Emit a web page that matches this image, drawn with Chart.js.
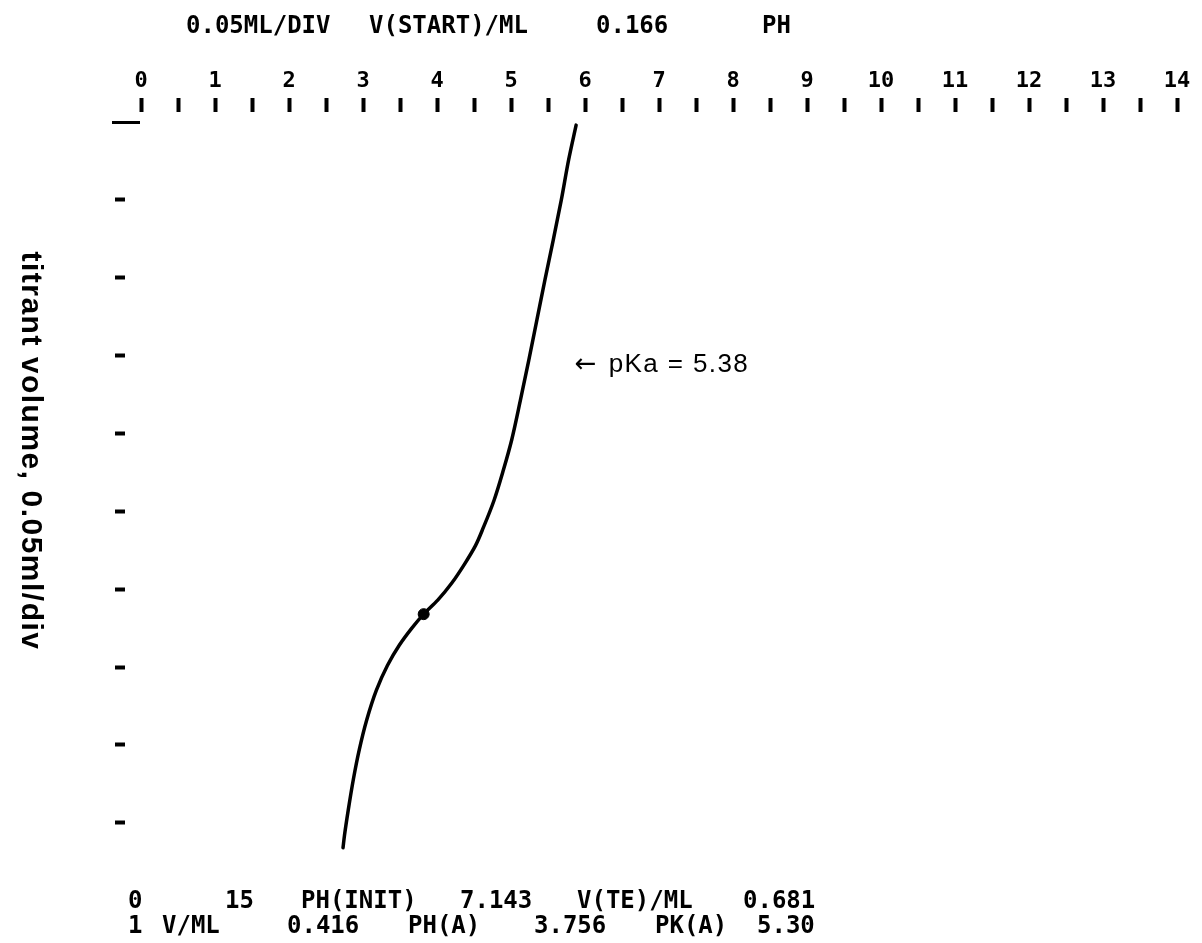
<!DOCTYPE html>
<html>
<head>
<meta charset="utf-8">
<script src="https://cdn.jsdelivr.net/npm/chart.js@4.4.1/dist/chart.umd.min.js"></script>
<style>
  html, body { margin: 0; padding: 0; background: #ffffff; }
  #wrap { position: relative; width: 1202px; height: 943px; }
  canvas { display: block; }
</style>
</head>
<body>
<div id="wrap"><canvas id="c" width="1202" height="943"></canvas></div>
<script>
// ---- data ----
// pH along the curve (top axis)
const curvePH = [5.88, 5.78, 5.68, 5.57, 5.46, 5.35, 5.24, 5.13, 5.01, 4.90, 4.77, 4.63, 4.52,
                 4.37, 4.20, 4.01, 3.82, 3.66, 3.49, 3.33, 3.18, 3.05, 2.95, 2.87, 2.80, 2.75, 2.73];
// titrant volume added, mL (axis runs downward, 0.05 mL per division)
const curveVol = [0.002, 0.024, 0.050, 0.076, 0.101, 0.127, 0.153, 0.178, 0.204, 0.223, 0.243, 0.260, 0.272,
                  0.284, 0.296, 0.307, 0.316, 0.325, 0.336, 0.349, 0.365, 0.384, 0.403, 0.422, 0.442, 0.458, 0.466];
// half-neutralisation marker
const markerPH = [3.82];
const markerVol = [0.316];
// tick labels
const pHTickLabels = ['0','1','2','3','4','5','6','7','8','9','10','11','12','13','14'];
const volStep = 0.05;
// texts
const headerTexts = ['0.05ML/DIV', 'V(START)/ML', '0.166', 'PH'];
const footerRow1 = ['0', '15', 'PH(INIT)', '7.143', 'V(TE)/ML', '0.681'];
const footerRow2 = ['1', 'V/ML', '0.416', 'PH(A)', '3.756', 'PK(A)', '5.30'];
const yTitle = 'titrant volume, 0.05ml/div';
const pKaArrow = '\u2190';
const pKaText = 'pKa = 5.38';
const pKaAnchor = [5.86, 0.156]; // [pH, mL] where the note sits

// ---- layout (text placement only) ----
const headerX = [186, 369, 596, 762], headerY = 27;
const footer1X = [128, 225, 301, 460, 577, 743], footer1Y = 902;
const footer2X = [128, 162, 287, 408, 534, 655, 757], footer2Y = 927;
const titleX = 30, titleY = 451;

const textPlugin = {
  id: 'texts',
  afterDraw(chart) {
    const ctx = chart.ctx;
    const xs = chart.scales.x, ys = chart.scales.y;
    ctx.save();
    ctx.fillStyle = '#000';
    ctx.textBaseline = 'middle';
    ctx.textAlign = 'left';
    ctx.font = 'bold 24px "DejaVu Sans Mono"';
    headerTexts.forEach((t, i) => ctx.fillText(t, headerX[i], headerY));
    footerRow1.forEach((t, i) => ctx.fillText(t, footer1X[i], footer1Y));
    footerRow2.forEach((t, i) => ctx.fillText(t, footer2X[i], footer2Y));

    const ax = xs.getPixelForValue(pKaAnchor[0]);
    const ay = ys.getPixelForValue(pKaAnchor[1]);
    ctx.font = '26px "DejaVu Sans"';
    ctx.fillText(pKaArrow, ax, ay);
    ctx.font = '26px "Liberation Sans", Arial, sans-serif';
    try { ctx.letterSpacing = '1.4px'; } catch (e) {}
    ctx.fillText(pKaText, ax + 34, ay);

    ctx.font = 'bold 30px "Liberation Sans", Arial, sans-serif';
    try { ctx.letterSpacing = '1.5px'; } catch (e) {}
    ctx.translate(titleX, titleY);
    ctx.rotate(Math.PI / 2);
    ctx.textAlign = 'center';
    ctx.fillText(yTitle, 0, 0);
    ctx.restore();
  }
};

new Chart(document.getElementById('c'), {
  type: 'line',
  data: {
    datasets: [
      {
        data: curvePH.map((p, i) => ({ x: p, y: curveVol[i] })),
        borderColor: '#000',
        borderWidth: 3.5,
        pointRadius: 0,
        cubicInterpolationMode: 'monotone',
        fill: false,
        borderCapStyle: 'round',
        borderJoinStyle: 'round'
      },
      {
        data: markerPH.map((p, i) => ({ x: p, y: markerVol[i] })),
        showLine: false,
        pointRadius: 5.5,
        pointStyle: 'circle',
        pointBackgroundColor: '#000',
        pointBorderColor: '#000'
      }
    ]
  },
  options: {
    indexAxis: 'y',
    responsive: false,
    animation: false,
    devicePixelRatio: 1,
    layout: { padding: { top: 50, left: 0, right: 25, bottom: 89 } },
    plugins: { legend: { display: false }, tooltip: { enabled: false } },
    scales: {
      x: {
        type: 'linear',
        position: 'top',
        min: 0,
        max: 14,
        border: { display: false },
        grid: {
          drawOnChartArea: false,
          drawTicks: true,
          tickLength: 24,
          tickWidth: 4,
          tickColor: '#000',
          tickBorderDash: [14, 60]
        },
        ticks: {
          stepSize: 0.5,
          autoSkip: false,
          maxRotation: 0,
          padding: 4,
          color: '#000',
          font: { family: '"DejaVu Sans Mono"', weight: 'bold', size: 22 },
          callback: (v) => Number.isInteger(v) ? pHTickLabels[v] : ''
        },
        afterFit(s) { s.height = 72; }
      },
      y: {
        type: 'linear',
        position: 'left',
        reverse: true,
        min: 0,
        max: 0.47,
        border: { display: false },
        grid: {
          drawOnChartArea: false,
          drawTicks: true,
          tickLength: 29,
          tickColor: '#000',
          tickWidth: (c) => (c.tick && c.tick.value === 0) ? 3 : 4,
          tickBorderDash: (c) => (c.tick && c.tick.value === 0) ? [28, 100] : [10, 100],
          tickBorderDashOffset: (c) => (c.tick && c.tick.value === 0) ? 0 : 107
        },
        ticks: { display: false, stepSize: volStep, includeBounds: false },
        afterFit(s) { s.width = 141; }
      }
    }
  },
  plugins: [textPlugin]
});
</script>
</body>
</html>
